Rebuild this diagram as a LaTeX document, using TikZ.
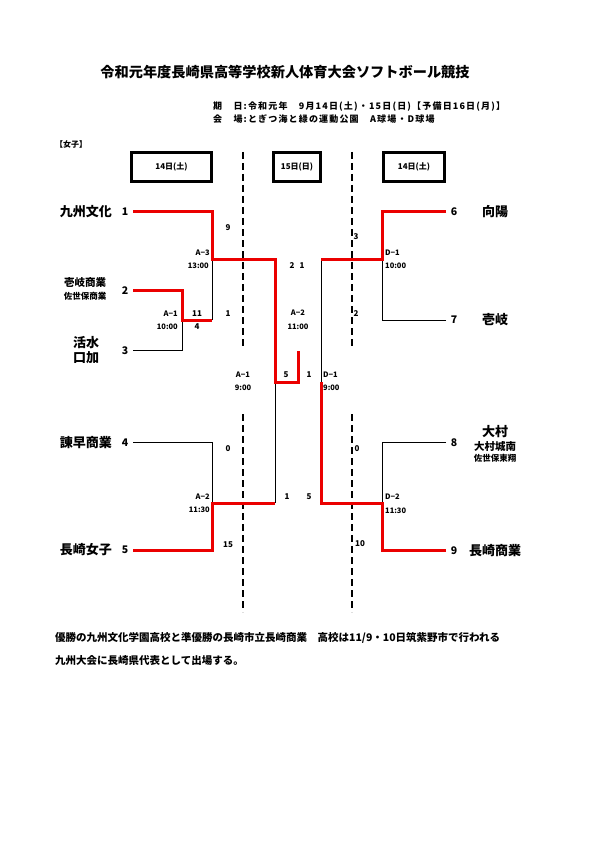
\documentclass[tikz,border=0pt]{standalone}
\usepackage{fontspec}
\setmainfont{Noto Sans CJK JP}
\newfontfamily\widejp{Noto Sans CJK JP}[LetterSpace=13]
\definecolor{red1}{RGB}{235, 0, 0}
\usetikzlibrary{positioning}

\begin{document}
\begin{tikzpicture}[x=1pt, y=-1pt,
  win/.style={draw=red1, line width=3pt},
  lose/.style={draw=black, line width=0.9pt},
  divider/.style={draw=black, line width=2.3pt, dash pattern=on 7pt off 4pt},
  daybox/.style={draw, line width=3pt, minimum height=29pt, inner sep=0pt, font=\bfseries\fontsize{8}{9}\selectfont},
  team/.style={inner sep=0pt, font=\bfseries\fontsize{13}{14}\selectfont},
  subteam/.style={inner sep=0pt, font=\bfseries\fontsize{10.5}{12}\selectfont},
  tinyteam/.style={inner sep=0pt, font=\bfseries\fontsize{8.5}{10}\selectfont},
  seed/.style={inner sep=0pt, font=\bfseries\fontsize{10.5}{12}\selectfont},
  score/.style={inner sep=0pt, font=\bfseries\fontsize{8}{9}\selectfont},
  info/.style={inner sep=0pt, font=\bfseries\fontsize{7.5}{9}\selectfont},
  heading/.style={inner sep=0pt, anchor=west, font=\widejp\bfseries\fontsize{9}{10}\selectfont},
  note/.style={inner sep=0pt, anchor=west, font=\bfseries\fontsize{10.5}{12}\selectfont}]
  \useasboundingbox (0,0) rectangle (595,842);

  % heading
  \node[inner sep=0pt, font=\bfseries\fontsize{14.2}{16}\selectfont] (title) at (285,72) {令和元年度長崎県高等学校新人体育大会ソフトボール競技};
  \node[heading] (date) at (213,107) {期　日:令和元年　9月14日(土)・15日(日)【予備日16日(月)】};
  \node[heading] (venue) at (213,119) {会　場:とぎつ海と緑の運動公園　A球場・D球場};
  \node[inner sep=0pt, anchor=west, font=\bfseries\fontsize{8}{9}\selectfont] (group) at (55,144) {【女子】};

  % day boxes
  \node[daybox, minimum width=80pt] (day1) at (171.5,167) {14日(土)};
  \node[daybox, minimum width=47pt] (day2) at (297,167) {15日(日)};
  \node[daybox, minimum width=61pt] (day3) at (414,167) {14日(土)};

  % dividers
  \foreach \x in {243,352} {
    \draw[divider] (\x,152) -- (\x,348);
    \draw[divider] (\x,414) -- (\x,612);
  }

  % teams, left
  \node[team, anchor=east] (kyushu) at (112,212) {九州文化};
  \node[subteam] (iki1) at (85,283) {壱岐商業};
  \node[tinyteam] (sasebo1) at (85,296) {佐世保商業};
  \node[team] (kassui) at (86,343) {活水};
  \node[team] (kuchinotsu) at (86,358) {口加};
  \node[team, anchor=east] (isahaya) at (112,443) {諫早商業};
  \node[team, anchor=east] (joshi) at (112,550) {長崎女子};
  \foreach \n/\y in {1/212, 2/291, 3/351, 4/443, 5/550}
    \node[seed] (s\n) at (125,\y) {\n};

  % teams, right
  \node[team] (koyo) at (495,212) {向陽};
  \node[team] (iki2) at (495,320) {壱岐};
  \node[team] (omura) at (495,432) {大村};
  \node[subteam] (jonan) at (495,446) {大村城南};
  \node[tinyteam] (tosho) at (495,458) {佐世保東翔};
  \node[team] (shogyo) at (495,551) {長崎商業};
  \foreach \n/\y in {6/212, 7/320, 8/443, 9/551}
    \node[seed] (s\n) at (454,\y) {\n};

  % bracket points
  \coordinate (p1) at (133,212);
  \coordinate (p2) at (133,290);
  \coordinate (p3) at (133,350);
  \coordinate (p4) at (133,442);
  \coordinate (p5) at (133,550);
  \coordinate (p6) at (446,212);
  \coordinate (p7) at (446,320);
  \coordinate (p8) at (446,442);
  \coordinate (p9) at (446,550);
  \coordinate (a1) at (182,320);
  \coordinate (a3) at (212,259);
  \coordinate (a2) at (212,503);
  \coordinate (f) at (275,382);
  \coordinate (champ) at (298,351);
  \coordinate (d1) at (382,259);
  \coordinate (d2) at (382,503);
  \coordinate (g) at (321,382);

  % losers
  \draw[lose] (p3) -| (a1);
  \draw[lose] (a1 -| a3) -- (a3);
  \draw[lose] (p4) -| (a2);
  \draw[lose] (a2 -| f) -- (f);
  \draw[lose] (p7) -| (d1);
  \draw[lose] (d1 -| g) -- (g);
  \draw[lose] (p8) -| (d2);

  % winners
  \draw[win] (p2) -| (a1) -- (a1 -| a3);
  \draw[win] (p1) -| (a3) -| (f) -- (f -| champ) -- (champ);
  \draw[win] (p5) -| (a2) -- (a2 -| f);
  \draw[win] (p6) -| (d1) -- (d1 -| g);
  \draw[win] (p9) -| (d2) -- (d2 -| g) -- (g);

  % match info, left
  \node[info, anchor=east] (a1name) at (178,314) {A−1};
  \node[info, anchor=east] (a1time) at (178,327) {10:00};
  \node[info, anchor=east] (a3name) at (210,253) {A−3};
  \node[info, anchor=east] (a3time) at (209,266) {13:00};
  \node[info, anchor=east] (a2name) at (210,497) {A−2};
  \node[info, anchor=east] (a2time) at (210,510) {11:30};
  \node[score] (sc2) at (197,314) {11};
  \node[score] (sc3) at (197,327) {4};
  \node[score] (sc1) at (228,228) {9};
  \node[score] (sc21) at (228,314) {1};
  \node[score] (sc4) at (228,449) {0};
  \node[score] (sc5) at (228,545) {15};

  % match info, centre
  \node[score] (sf1) at (292,266) {2};
  \node[score] (sf2) at (302,266) {1};
  \node[info] (m2name) at (298,313) {A−2};
  \node[info] (m2time) at (298,327) {11:00};
  \node[info] (m1name) at (243,375) {A−1};
  \node[info] (m1time) at (243,388) {9:00};
  \node[score] (fl1) at (286,375) {5};
  \node[score] (fr1) at (309,375) {1};
  \node[score] (fl2) at (287,497) {1};
  \node[score] (fr2) at (309,497) {5};
  \node[info, anchor=west] (n1name) at (323,375) {D−1};
  \node[info, anchor=west] (n1time) at (323,388) {9:00};

  % match info, right
  \node[info, anchor=west] (d1name) at (385,253) {D−1};
  \node[info, anchor=west] (d1time) at (385,266) {10:00};
  \node[info, anchor=west] (d2name) at (385,497) {D−2};
  \node[info, anchor=west] (d2time) at (385,511) {11:30};
  \node[score] (sc6) at (356,237) {3};
  \node[score] (sc7) at (356,314) {2};
  \node[score] (sc8) at (357,449) {0};
  \node[score] (sc9) at (360,544) {10};

  % note
  \node[note] (note1) at (55,638) {優勝の九州文化学園高校と準優勝の長崎市立長崎商業　高校は11/9・10日筑紫野市で行われる};
  \node[note] (note2) at (55,661) {九州大会に長崎県代表として出場する。};
\end{tikzpicture}
\end{document}
